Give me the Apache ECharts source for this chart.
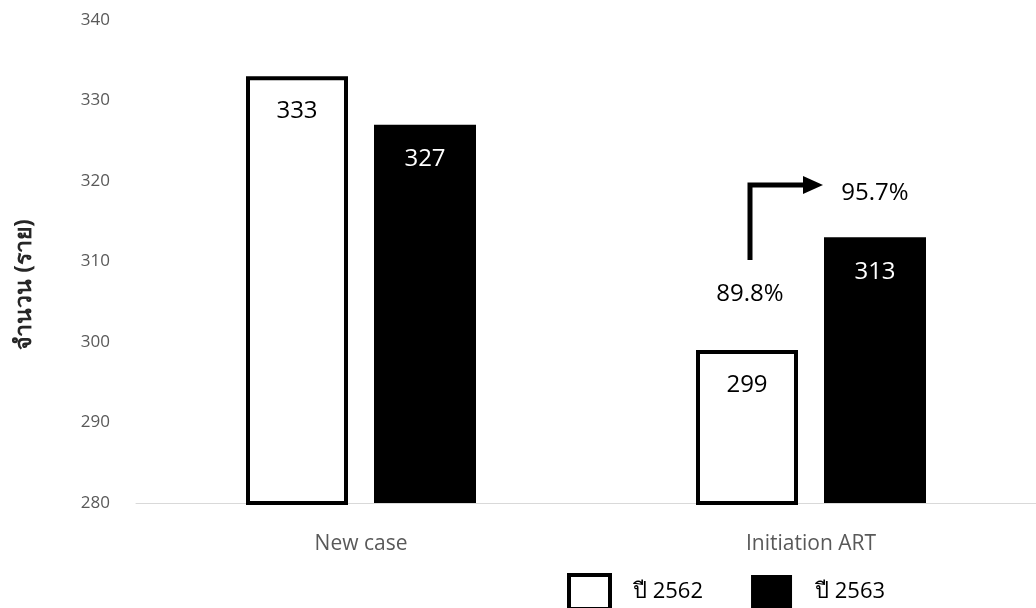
<!DOCTYPE html>
<html>
<head>
<meta charset="utf-8">
<script src="https://cdn.jsdelivr.net/npm/echarts@6/dist/echarts.min.js"></script>
<style>html,body{margin:0;padding:0;background:#fff}#c{width:1036px;height:608px}</style>
</head>
<body>
<div id="c"></div>
<script>
const categories = ['New case', 'Initiation ART'];
const seriesNames = ['ปี 2562', 'ปี 2563'];
const values2562 = [333, 299];
const values2563 = [327, 313];
const yTicks = [280, 290, 300, 310, 320, 330, 340];
const pctLabels = ['89.8%', '95.7%'];
const pctLevels = [306, 318.5];
const arrowLevels = [310.2, 319.5];

const BAR_W = 102, GAP = 26;
const FONT = '"Open Sans", "Noto Sans", sans-serif';

const chart = echarts.init(document.getElementById('c'), null, {renderer: 'canvas'});
chart.setOption({
  animation: false,
  backgroundColor: '#fff',
  grid: {left: 136, top: 20, width: 905, bottom: 105, containLabel: false},
  legend: {
    data: [
      {name: seriesNames[0], itemStyle: {color: '#fff', borderColor: '#000', borderWidth: 4}},
      {name: seriesNames[1], itemStyle: {color: '#000'}}
    ],
    left: 562, top: 568, icon: 'rect', itemWidth: 41, itemHeight: 34, itemGap: 48,
    textStyle: {fontSize: 22, color: '#000', fontFamily: FONT, padding: [0, 0, 0, 18]}
  },
  xAxis: {
    type: 'category', data: categories,
    axisLine: {lineStyle: {color: '#d9d9d9', width: 1}},
    axisTick: {show: false},
    axisLabel: {fontSize: 21, color: '#595959', margin: 31, fontFamily: FONT}
  },
  yAxis: {
    type: 'value', min: yTicks[0], max: yTicks[yTicks.length - 1], interval: 10,
    name: 'จำนวน (ราย)', nameLocation: 'middle', nameGap: 100, nameRotate: 90,
    nameTextStyle: {fontSize: 23, fontWeight: 'bold', color: '#262626', fontFamily: FONT, padding: [0, 46, 0, 0]},
    splitLine: {show: false}, axisLine: {show: false}, axisTick: {show: false},
    axisLabel: {fontSize: 17, color: '#595959', margin: 26, fontFamily: FONT}
  },
  series: [
    {
      name: seriesNames[0], type: 'bar', data: values2562, barWidth: BAR_W, barGap: (GAP / BAR_W * 100) + '%',
      itemStyle: {color: '#fff', borderColor: '#000', borderWidth: 4},
      label: {show: true, position: 'insideTop', distance: 23, fontSize: 24, color: '#000', fontFamily: FONT}
    },
    {
      name: seriesNames[1], type: 'bar', data: values2563, barWidth: BAR_W,
      itemStyle: {color: '#000'},
      label: {show: true, position: 'insideTop', distance: 23, fontSize: 24, color: '#fff', fontFamily: FONT}
    }
  ]
});

const cx = chart.convertToPixel({xAxisIndex: 0}, categories[1]);
const half = (BAR_W + GAP) / 2;
const wx = cx - half + 3, bx = cx + half;
const py = v => chart.convertToPixel({yAxisIndex: 0}, v);
const ay0 = py(arrowLevels[0]), ay1 = py(arrowLevels[1]);
const txt = {fontSize: 24, fill: '#000', fontFamily: FONT, align: 'center', verticalAlign: 'middle'};
chart.setOption({
  graphic: [
    {type: 'text', x: wx, y: py(pctLevels[0]), style: Object.assign({text: pctLabels[0]}, txt)},
    {type: 'text', x: bx, y: py(pctLevels[1]), style: Object.assign({text: pctLabels[1]}, txt)},
    {type: 'polyline', shape: {points: [[wx, ay0], [wx, ay1], [bx - 70, ay1]]}, style: {stroke: '#000', lineWidth: 5, fill: null, lineJoin: 'miter'}},
    {type: 'polygon', shape: {points: [[bx - 72, ay1 - 9], [bx - 52, ay1], [bx - 72, ay1 + 9]]}, style: {fill: '#000'}}
  ]
});
</script>
</body>
</html>
